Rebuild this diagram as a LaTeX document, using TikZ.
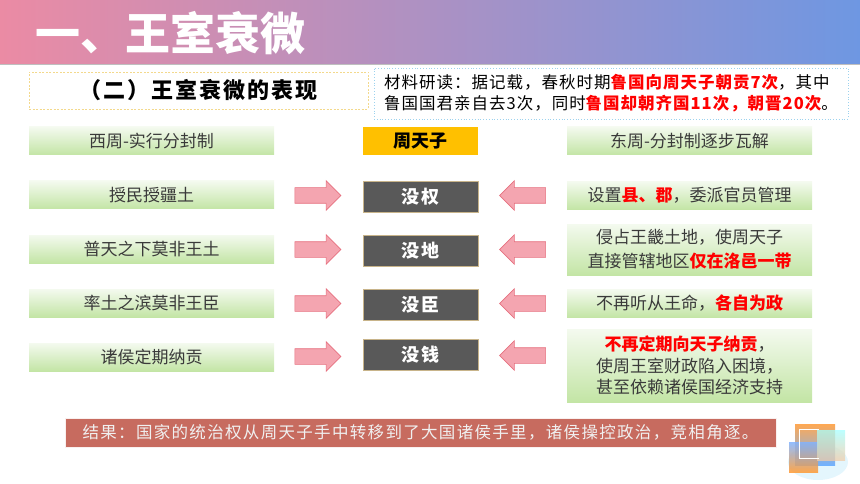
\documentclass[tikz,border=0pt]{standalone}
\usepackage{fontspec}
\setmainfont{Noto Sans CJK SC}
\usetikzlibrary{shapes.arrows}
\definecolor{titlepink}{HTML}{EB8BA4}
\definecolor{titlemid}{HTML}{C99AD2}
\definecolor{titleblue}{HTML}{6E97E2}
\definecolor{boxgreen}{HTML}{C3E5A5}
\definecolor{boxlight}{HTML}{F4FAEF}
\definecolor{arrowfill}{HTML}{F4A5B0}
\definecolor{arrowline}{HTML}{E6707F}
\definecolor{darkbox}{HTML}{595959}
\definecolor{darkline}{HTML}{C8B48A}
\definecolor{kingbox}{HTML}{FFC000}
\definecolor{resultbox}{HTML}{C76B5F}
\definecolor{textgray}{HTML}{3A3A3A}
\definecolor{hired}{HTML}{FF0000}
\definecolor{subline}{HTML}{F3D98C}
\definecolor{matline}{HTML}{9CD2EE}
\newcommand{\hot}[1]{{\bfseries\color{hired}#1}}

\begin{document}
\begin{tikzpicture}[x=1pt,y=-1pt,
  greenbox/.style={minimum width=245pt,minimum height=28pt,inner sep=0pt,
    top color=boxlight,bottom color=boxgreen,text=textgray,align=center,
    font=\fontsize{17}{22}\selectfont},
  losebox/.style={minimum width=115pt,minimum height=31pt,inner sep=0pt,
    fill=darkbox,draw=darkline,line width=0.6pt,text=white,
    font=\bfseries\fontsize{18}{20}\selectfont\addfontfeatures{LetterSpace=8}},
  blockarrow/.style={single arrow,minimum height=46pt,minimum width=29pt,
    single arrow head extend=7pt,single arrow head indent=0pt,inner sep=7.5pt,
    fill=arrowfill,draw=arrowline,line width=0.6pt}]
\useasboundingbox (0,0) rectangle (860,484);

% title bar
\shade[left color=titlepink,middle color=titlemid,right color=titleblue]
  (0,0) rectangle (860,64);
\draw[gray!50,line width=0.8pt] (0,64) -- (860,64);
\node[anchor=west,text=white,font=\bfseries\fontsize{45}{50}\selectfont]
  (title) at (32,33) {一、王室衰微};

% heading and source text
\node[draw=subline,dashed,dash pattern=on 2pt off 1.5pt,minimum width=339pt,
  minimum height=37pt,font=\bfseries\fontsize{22}{24}\selectfont\addfontfeatures{LetterSpace=9}]
  (sub) at (198.5,90.5) {（二）王室衰微的表现};
\node[draw=matline,dotted,line width=0.8pt,minimum width=474pt,minimum height=51pt,
  align=left,font=\fontsize{16.5}{21}\selectfont\addfontfeatures{LetterSpace=6}]
  (mat) at (611,93.5)
  {材料研读：据记载，春秋时期\hot{鲁国向周天子朝贡7次}，其中\\
   鲁国国君亲自去3次，同时\hot{鲁国却朝齐国11次，朝晋20次}。};

% column heads
\node[greenbox] (west) at (151.5,141) {西周-实行分封制};
\node[minimum width=115pt,minimum height=28pt,fill=kingbox,
  font=\bfseries\fontsize{18}{20}\selectfont] (king) at (420.5,141) {周天子};
\node[greenbox] (east) at (689.5,141) {东周-分封制逐步瓦解};

% west column
\foreach \i/\y/\txt in {1/195/授民授疆土,2/249/普天之下莫非王土,
  3/303/率土之滨莫非王臣,4/357/诸侯定期纳贡}
  \node[greenbox] (west\i) at (151.5,\y) {\txt};

% what the king lost
\foreach \i/\y/\txt in {1/196.5/没权,2/250.5/没地,3/304.5/没臣,4/354.5/没钱}
  \node[losebox] (lose\i) at (420.5,\y) {\txt};

% arrows
\foreach \i/\y in {1/195.5,2/249.5,3/303.5,4/356.5}
  \node[blockarrow] (ra\i) at (314,\y) {};
\foreach \i/\y in {1/195.5,2/249.5,3/303.5,4/355.5}
  \node[blockarrow,shape border rotate=180] (la\i) at (526.5,\y) {};

% east column
\node[greenbox] (east1) at (689.5,195.5) {设置\hot{县、郡}，委派官员管理};
\node[greenbox,minimum height=51pt,font=\fontsize{17}{24}\selectfont] (east2) at (689.5,249.5)
  {侵占王畿土地，使周天子\\直接管辖地区\hot{仅在洛邑一带}};
\node[greenbox] (east3) at (689.5,303.5) {不再听从王命，\hot{各自为政}};
\node[greenbox,minimum height=73pt,font=\fontsize{17}{21.5}\selectfont] (east4) at (689.5,365.5)
  {\hot{不再定期向天子纳贡}，\\使周王室财政陷入困境，\\甚至依赖诸侯国经济支持};

% result
\node[fill=resultbox,draw=white!90!resultbox,minimum width=711pt,minimum height=29pt,
  text=white!94!black,font=\fontsize{16.5}{20}\selectfont\addfontfeatures{LetterSpace=8}]
  (res) at (420.5,432.5)
  {结果：国家的统治权从周天子手中转移到了大国诸侯手里，诸侯操控政治，竞相角逐。};

% corner ornament
\fill[cyan!30,opacity=0.35] (818,462) ellipse (30pt and 18pt);
\shade[top color=orange!75,bottom color=cyan!45!blue!60,opacity=0.9] (795,424) rectangle (835,465);
\shade[top color=cyan!40!blue!50,bottom color=orange!80,opacity=0.85] (789,442) rectangle (818,472);
\shade[top color=cyan!35,bottom color=orange!40!brown!40,opacity=0.75] (817,430) rectangle (845,460);
\draw[white,line width=0.8pt] (819,429) -- (799,429) -- (799,458) -- (819,458);
\end{tikzpicture}
\end{document}
